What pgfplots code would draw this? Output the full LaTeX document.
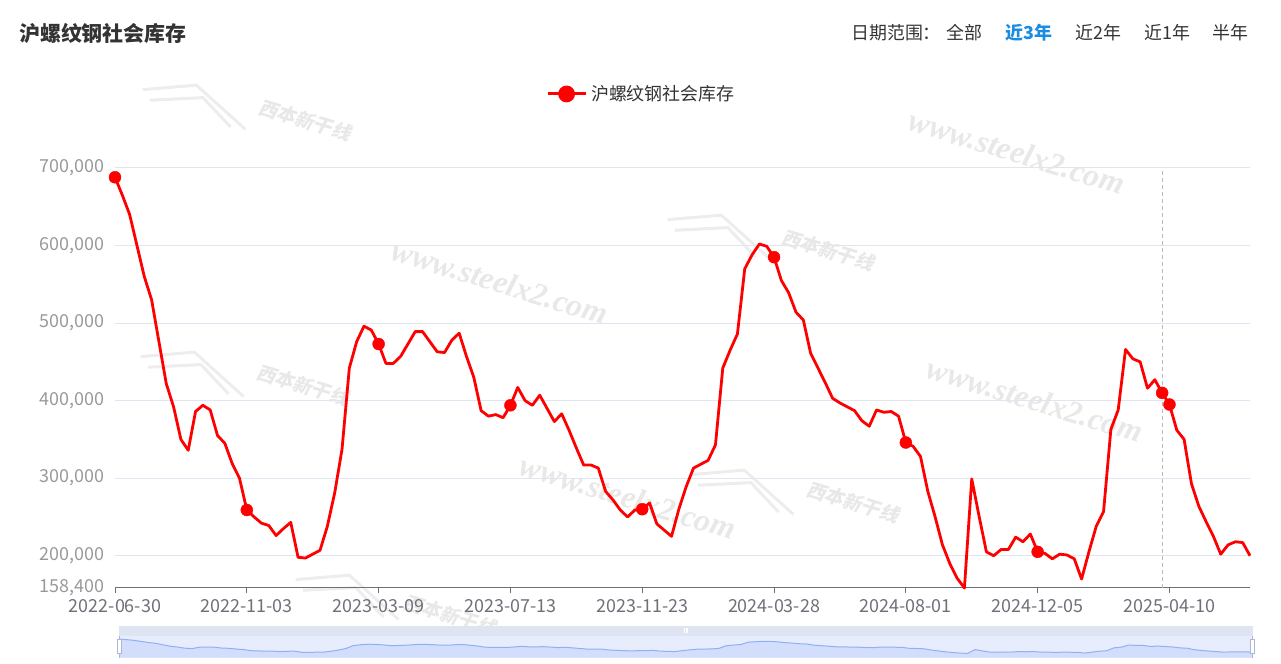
\documentclass[border=0pt]{standalone}
\usepackage{fontspec}
\setmainfont{Noto Sans CJK SC}
\newfontfamily\wmfont{Liberation Serif}
\newfontfamily\wmcjk{Noto Sans CJK SC}[FakeSlant=0.2]
\usepackage{pgfplots}
\usepackage{pgfplotstable}
\pgfplotsset{compat=1.18}

\definecolor{lred}{HTML}{FF0000}
\definecolor{gridc}{HTML}{E0E6F1}
\definecolor{axisc}{HTML}{6E7079}
\definecolor{ylab}{HTML}{999999}
\definecolor{txt}{HTML}{333333}
\definecolor{sel}{HTML}{1A8CE2}
\definecolor{zoomband}{HTML}{DFE4F2}
\definecolor{zoombg}{HTML}{E7EDFC}
\definecolor{zoomfill}{HTML}{D2DEFB}
\definecolor{zoomline}{HTML}{8FB0F7}
\definecolor{handle}{HTML}{ACB8D1}
\definecolor{wm}{HTML}{E8E8E8}
\definecolor{wmlogo}{HTML}{EDEDED}

% weekly stock, week 0 = 2022-06-30
\pgfplotstableread{
w v
0 688000
1 665000
2 640000
3 600000
4 560000
5 530000
6 476000
7 422000
8 392000
9 350000
10 336000
11 386000
12 394000
13 388000
14 355000
15 345000
16 319000
17 300000
18 259000
19 250000
20 242000
21 239000
22 226000
23 235000
24 243000
25 198000
26 197000
27 202000
28 207000
29 238000
30 281000
31 337000
32 442000
33 476000
34 496000
35 491000
36 473000
37 448000
38 448000
39 457000
40 473000
41 489000
42 489000
43 476000
44 463000
45 462000
46 478000
47 487000
48 457000
49 430000
50 387000
51 380000
52 382000
53 378000
54 394000
55 417000
56 400000
57 394000
58 407000
59 390000
60 373000
61 383000
62 362000
63 339000
64 317000
65 317000
66 313000
67 283000
68 272000
69 259000
70 250000
71 259000
72 260000
73 268000
74 241000
75 233000
76 225000
77 260000
78 289000
79 313000
80 318000
81 323000
82 343000
83 442000
84 465000
85 486000
86 570000
87 588000
88 602000
89 599000
90 585000
91 555000
92 539000
93 514000
94 504000
95 461000
96 442000
97 423000
98 403000
99 397000
100 392000
101 387000
102 374000
103 367000
104 388000
105 385000
106 386000
107 380000
108 346000
109 341000
110 328000
111 283000
112 250000
113 214000
114 190000
115 171000
116 158400
117 299000
118 251000
119 205000
120 200000
121 208000
122 208000
123 224000
124 218000
125 228000
126 205000
127 203000
128 196000
129 202000
130 201000
131 196000
132 170000
133 205000
134 238000
135 257000
136 363000
137 388000
138 466000
139 454000
140 450000
141 416000
142 427000
143 410000
144 395000
145 362000
146 350000
147 293000
148 264000
149 244000
150 225000
151 202000
152 214000
153 218000
154 217000
155 200000
}\stock

\begin{document}
\begin{tikzpicture}[x=1bp,y=1bp]
\path (0,0) rectangle (1281,664);

% watermarks
\foreach \px/\py in {1017/512, 500/382, 1035/264, 628/167}
  \node[rotate=-17, text=wm, font=\wmfont\bfseries\itshape\fontsize{32}{34}\selectfont] at (\px,\py) {www.steelx2.com};
\foreach \px/\py in {305/544, 828/414, 303/279, 853/162, 450/49}
  \node[rotate=-17, text=wm, font=\wmcjk\bfseries\fontsize{19}{21}\selectfont] at (\px,\py) {西本新干线};
\foreach \px/\py in {197/564, 722/434, 195/297, 745/179, 350/74}
  \draw[wmlogo, line width=3bp, rotate around={-17:(\px,\py)}]
    (\px-55,\py-6) -- (\px-5,\py+14) -- (\px+55,\py-14)
    (\px-45,\py-14) -- (\px+5,\py+4) -- (\px+40,\py-16);

% header
\node[anchor=west, inner sep=0pt, text=txt, font=\bfseries\fontsize{21}{24}\selectfont] at (19,631) {沪螺纹钢社会库存};
\begin{scope}[every node/.style={anchor=west, inner sep=0pt, text=txt, font=\fontsize{18}{20}\selectfont}]
  \node at (851,631) {日期范围：};
  \node at (946,631) {全部};
  \node[text=sel, font=\bfseries\fontsize{18}{20}\selectfont] at (1005,631) {近3年};
  \node at (1075,631) {近2年};
  \node at (1144,631) {近1年};
  \node at (1212,631) {半年};
\end{scope}

\begin{axis}[
  at={(115bp,76bp)}, anchor=south west, scale only axis,
  width=1135bp, height=420bp,
  xmin=0, xmax=155, ymin=158400, ymax=700000,
  axis x line=bottom, axis y line=left,
  x axis line style={-, axisc, line width=1bp},
  y axis line style={draw=none},
  xtick={0,18,...,144},
  xticklabels={2022-06-30,2022-11-03,2023-03-09,2023-07-13,2023-11-23,2024-03-28,2024-08-01,2024-12-05,2025-04-10},
  ytick={158400,200000,300000,400000,500000,600000,700000},
  scaled y ticks=false,
  tick align=outside,
  major tick length=5bp,
  xtick style={axisc, line width=1bp},
  ytick style={draw=none},
  ymajorgrids, grid style={gridc, line width=1bp},
  tick label style={font=\fontsize{18}{20}\selectfont},
  xticklabel style={text=axisc, yshift=-3bp},
  yticklabel style={text=ylab, xshift=-2bp, /pgf/number format/fixed, /pgf/number format/1000 sep={,}},
  /pgf/number format/assume math mode=true,
  clip=false,
  legend style={at={(0.3798,1.1762)}, anchor=west, draw=none, fill=none,
    inner sep=0pt, outer sep=0pt, nodes={inner sep=0pt, text=txt, font=\fontsize{18}{20}\selectfont}},
  legend image code/.code={
    \draw[lred, line width=3bp] (0bp,0bp) -- (38bp,0bp);
    \fill[lred] (19bp,0bp) circle (7bp);},
]
\draw[gray!55, line width=1bp, dash pattern=on 4bp off 3bp] (axis cs:143,158400) -- (axis cs:143,700000);
\addplot[lred, line width=2.8bp, mark=none, line join=round] table[x=w, y=v] {\stock};
\addlegendentry{\hspace{4bp}沪螺纹钢社会库存}
\addplot[only marks, mark=*, mark size=6bp, lred, each nth point=18, filter discard warning=false, forget plot] table[x=w, y=v] {\stock};
\addplot[only marks, mark=*, mark size=6bp, lred, restrict x to domain=142.5:143.5, forget plot] table[x=w, y=v] {\stock};
\end{axis}

% data zoom slider
\fill[zoombg] (119,6.3) rectangle (1253,28.3);
\fill[zoomband] (119,28.3) rectangle (1253,38.3);
\begin{axis}[
  at={(119bp,6.3bp)}, anchor=south west, scale only axis,
  width=1134bp, height=22bp, hide axis,
  xmin=0, xmax=155, ymin=0, ymax=810000,
]
\addplot[fill=zoomfill, draw=none] table[x=w, y=v] {\stock} \closedcycle;
\addplot[zoomline, line width=1bp, mark=none] table[x=w, y=v] {\stock};
\end{axis}
\foreach \hx in {119.5,1252.5}{
  \draw[handle, line width=0.8bp] (\hx,6.3) -- (\hx,28.3);
  \filldraw[fill=white, draw=handle, line width=0.8bp] (\hx-2.3,10.5) rectangle (\hx+2.3,25);
}
\foreach \gx in {684.5,686,687.5}
  \draw[white, line width=0.6bp] (\gx,31) -- (\gx,35.5);
\end{tikzpicture}
\end{document}
